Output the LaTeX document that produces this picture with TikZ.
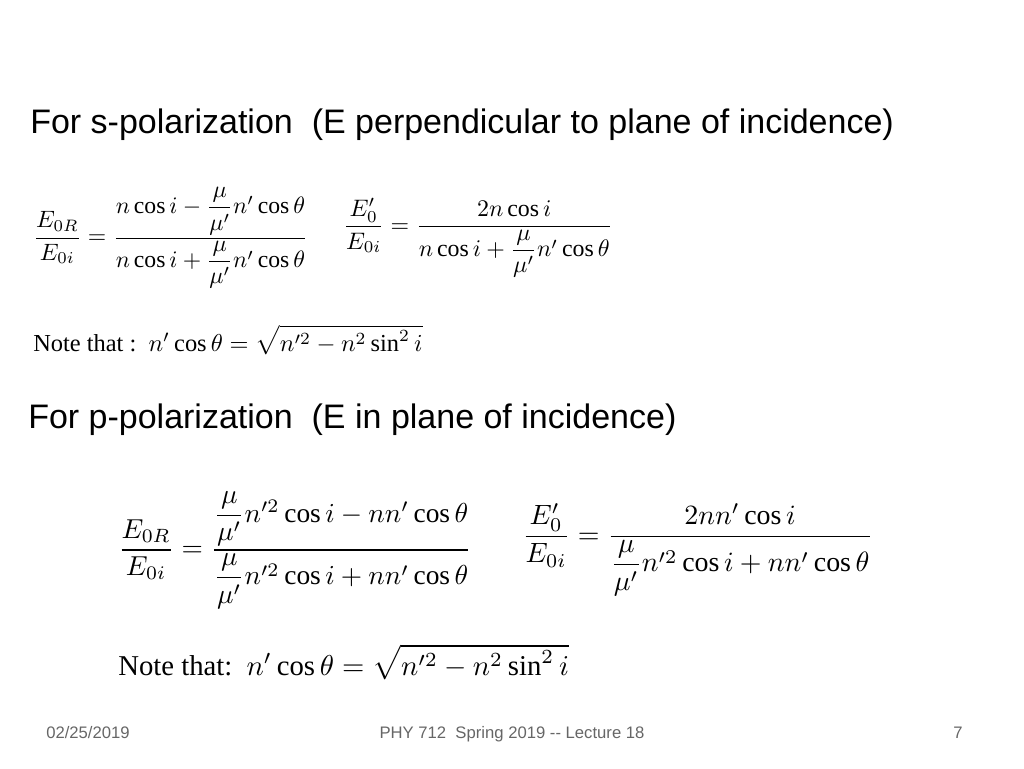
\documentclass[tikz,border=0pt]{standalone}
\usepackage{fontspec}
\usepackage{amsmath,graphicx}
\setmainfont{Liberation Serif}
\setsansfont{Liberation Sans}
\begin{document}
\begin{tikzpicture}[x=0.75pt,y=-0.75pt,
  head/.style={anchor=west,inner sep=0,font=\sffamily\fontsize{25.5}{30}\selectfont},
  foot/.style={inner sep=0,anchor=base,text=gray!80!black,font=\sffamily\fontsize{12.5}{15}\selectfont},
  eq/.style={inner sep=0}]
\useasboundingbox (0,0) rectangle (1024,768);
\node[head] (h1) at (30,125) {For s-polarization\ \ (E perpendicular to plane of incidence)};
\node[eq,anchor=west] (e1) at (33,238) {\resizebox{206pt}{!}{$\dfrac{E_{0R}}{E_{0i}}=\dfrac{n\cos i-\dfrac{\mu}{\mu'}n'\cos\theta}{n\cos i+\dfrac{\mu}{\mu'}n'\cos\theta}$}};
\node[eq,anchor=west] (e2) at (343,238) {\resizebox{202pt}{!}{$\dfrac{E'_{0}}{E_{0i}}=\dfrac{2n\cos i}{n\cos i+\dfrac{\mu}{\mu'}n'\cos\theta}$}};
\node[eq,anchor=west] (n1) at (33,340) {\resizebox{292pt}{!}{Note that :\ \ $n'\cos\theta=\sqrt{n'^2-n^2\sin^2 i}$}};
\node[head] (h2) at (28,420) {For p-polarization\ \ (E in plane of incidence)};
\node[eq,anchor=west] (e3) at (118,550) {\resizebox{265pt}{!}{$\dfrac{E_{0R}}{E_{0i}}=\dfrac{\dfrac{\mu}{\mu'}n'^2\cos i-nn'\cos\theta}{\dfrac{\mu}{\mu'}n'^2\cos i+nn'\cos\theta}$}};
\node[eq,anchor=west] (e4) at (522,550) {\resizebox{263pt}{!}{$\dfrac{E'_{0}}{E_{0i}}=\dfrac{2nn'\cos i}{\dfrac{\mu}{\mu'}n'^2\cos i+nn'\cos\theta}$}};
\node[eq,anchor=west] (n2) at (118,662) {\resizebox{338pt}{!}{Note that:\ \ $n'\cos\theta=\sqrt{n'^2-n^2\sin^2 i}$}};
\node[foot] (f1) at (88,738) {02/25/2019};
\node[foot] (f2) at (512,738) {PHY 712\ \ Spring 2019 -{}- Lecture 18};
\node[foot] (f3) at (958,738) {7};
\end{tikzpicture}
\end{document}
